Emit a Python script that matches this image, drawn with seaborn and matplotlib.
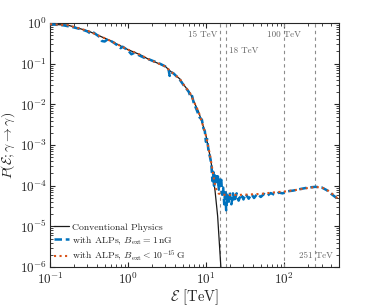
import numpy as np
import seaborn as sns
import matplotlib.pyplot as plt
from matplotlib.ticker import LogLocator, NullFormatter

# energias (TeV) e probabilidades
e_conv = [0.1, 0.17, 0.31, 0.55, 1.0, 1.43, 1.8, 3.0, 3.45, 4.6, 5.1, 6.2, 6.9, 8.0, 9.2,
          10.0, 11.2, 12.0, 13.0, 14.0, 15.4, 16.0]
p_conv = [0.93, 0.88, 0.63, 0.39, 0.22, 0.165, 0.13, 0.085, 0.066, 0.042, 0.031, 0.019, 0.012,
          0.0065, 0.0028, 0.0016, 5.3e-4, 2.4e-4, 7.2e-5, 1.8e-5, 1e-6, 4e-7]

e_alp = [0.1, 0.17, 0.31, 0.55, 1.0, 1.43, 1.8, 3.0, 3.45, 4.6, 5.1, 6.2, 6.9, 8.0, 9.2,
         10.0, 11.2, 12.0, 13.0, 13.6, 14.3, 15, 17, 20, 30, 50, 70, 100, 150, 200, 250,
         300, 350, 400, 450, 500]
p_alp = [0.93, 0.88, 0.63, 0.39, 0.22, 0.165, 0.13, 0.085, 0.066, 0.042, 0.031, 0.019, 0.012,
         0.0065, 0.0028, 0.0016, 5.5e-4, 2.5e-4, 1.0e-4, 7.5e-5, 6.5e-5, 6.2e-5, 6e-5, 5.9e-5,
         6e-5, 6.3e-5, 6.8e-5, 7.2e-5, 8e-5, 8.8e-5, 9.3e-5, 9.1e-5, 8e-5, 6.6e-5, 5.5e-5, 4.5e-5]

e_nG = [0.1, 0.15, 0.2, 0.25, 0.3, 0.33, 0.36, 0.42, 0.46, 0.5, 0.55, 0.65, 0.75, 0.8, 0.85,
        1.0, 1.1, 1.2, 1.4, 1.6, 1.8, 2.0, 2.3, 2.6, 3.0, 3.3, 3.4, 3.5, 3.8, 4.2, 4.6, 5.1,
        5.6, 6.0, 6.3, 6.6, 6.9, 7.5, 8.2, 8.8, 9.2, 9.6, 9.9, 10.3, 10.7, 11.2, 11.6, 12.0,
        12.3, 12.6, 12.9, 13.2, 13.5, 13.8, 14.1, 14.5, 14.8, 15.2, 15.6, 16.0, 16.5, 17.0,
        17.5, 18.0, 18.6, 19.2, 20, 21, 22, 23, 24.5, 26, 28, 30, 32, 35, 38, 41, 45, 50, 55,
        60, 67, 75, 85, 95, 110, 130, 160, 200, 250, 300, 350, 400, 450, 500]
p_nG = [0.93, 0.87, 0.78, 0.70, 0.62, 0.55, 0.58, 0.47, 0.36, 0.35, 0.40, 0.33, 0.27, 0.24,
        0.26, 0.21, 0.17, 0.185, 0.158, 0.14, 0.13, 0.12, 0.108, 0.098, 0.085, 0.07, 0.05,
        0.062, 0.058, 0.048, 0.04, 0.030, 0.024, 0.020, 0.015, 0.016, 0.011, 0.0075, 0.0048,
        0.0042, 0.0026, 0.0022, 0.0012, 0.0014, 7e-4, 5e-4, 3.5e-4, 1.3e-4, 2.2e-4, 1.0e-4,
        1.8e-4, 1.2e-4, 2.0e-4, 1.1e-4, 1.7e-4, 8e-5, 1.6e-4, 1.0e-4, 1.4e-4, 6e-5, 9e-5,
        3.5e-5, 8e-5, 2.5e-5, 6e-5, 3.5e-5, 7e-5, 3.5e-5, 6.5e-5, 4e-5, 6.5e-5, 4.3e-5, 6.2e-5,
        4.6e-5, 6.3e-5, 4.8e-5, 6.2e-5, 5e-5, 6.3e-5, 5.3e-5, 6.3e-5, 5.6e-5, 6.6e-5, 6e-5,
        6.8e-5, 6.5e-5, 7.3e-5, 7.6e-5, 8.3e-5, 9e-5, 9.4e-5, 9.1e-5, 7.8e-5, 6.3e-5, 5.3e-5,
        4.5e-5]

marcas = [15, 18, 100, 251]
rotulos = ["15 TeV", "18 TeV", "100 TeV", "251 TeV"]

sns.set_style("ticks")
plt.rcParams["font.family"] = "serif"
plt.rcParams["font.serif"] = ["cmr10"]
plt.rcParams["mathtext.fontset"] = "cm"
plt.rcParams["axes.formatter.use_mathtext"] = True
plt.rcParams["axes.unicode_minus"] = False

azul = "#0072BD"
laranja = "#D95319"

fig = plt.figure(figsize=(3.74, 3.06), dpi=100)
ax = fig.add_axes([0.134, 0.127, 0.772, 0.798])

for xv in marcas:
    ax.axvline(xv, color="0.55", lw=0.8, ls=(0, (3, 3)), zorder=1)

sns.lineplot(x=e_nG, y=p_nG, ax=ax, color=azul, lw=1.8, linestyle=(0, (3, 1.5)), sort=False,
             estimator=None, label=r"with ALPs, $B_{\rm ext} = 1\,\mathrm{nG}$", zorder=3)
sns.lineplot(x=e_conv, y=p_conv, ax=ax, color="0.1", lw=0.9, sort=False,
             estimator=None, label="Conventional Physics", zorder=2)
sns.lineplot(x=e_alp, y=p_alp, ax=ax, color=laranja, lw=1.5, linestyle=":", sort=False,
             estimator=None, label=r"with ALPs, $B_{\rm ext} < 10^{-15}\,\mathrm{G}$", zorder=4)

ax.set(xscale="log", yscale="log")
ax.set_xlim(0.1, 500)
ax.set_ylim(1e-6, 1)

# rotulos das linhas verticais
tr = ax.get_xaxis_transform()
ax.text(15, 0.951, rotulos[0] + " ", transform=tr, ha="right", va="center", fontsize=6.5, color="0.4")
ax.text(18, 0.885, " " + rotulos[1], transform=tr, ha="left", va="center", fontsize=6.5, color="0.4")
ax.text(100, 0.951, rotulos[2], transform=tr, ha="center", va="center", fontsize=6.5, color="0.4")
ax.text(251, 0.045, rotulos[3], transform=tr, ha="center", va="center", fontsize=6.5, color="0.4")

ax.xaxis.set_major_locator(LogLocator(base=10, numticks=10))
ax.xaxis.set_minor_locator(LogLocator(base=10, subs=np.arange(2, 10), numticks=20))
ax.xaxis.set_minor_formatter(NullFormatter())
ax.yaxis.set_major_locator(LogLocator(base=10, numticks=10))
ax.yaxis.set_minor_locator(LogLocator(base=10, subs=np.arange(2, 10), numticks=20))
ax.yaxis.set_minor_formatter(NullFormatter())
ax.tick_params(which="both", direction="in", top=True, right=True, labelsize=9.5)
ax.tick_params(axis="x", pad=3.5)
ax.tick_params(axis="y", pad=2)
ax.tick_params(which="major", length=3.5, width=0.8)
ax.tick_params(which="minor", length=2, width=0.6)
for s in ax.spines.values():
    s.set_linewidth(0.8)

ax.set_xlabel(r"$\mathcal{E}$ [TeV]", fontsize=10.5, labelpad=0)
ax.set_ylabel(r"$P(\mathcal{E};\gamma\to\gamma)$", fontsize=10)
ax.yaxis.set_label_coords(-0.115, 0.5)

h, l = ax.get_legend_handles_labels()
ordem = [1, 0, 2]
ax.legend([h[i] for i in ordem], [l[i] for i in ordem], loc="lower left", frameon=False,
          fontsize=7, handlelength=1.5, handletextpad=0.3, labelspacing=0.25,
          borderaxespad=0.2, borderpad=0.2)

plt.savefig("out.png", dpi=100)
plt.close()
